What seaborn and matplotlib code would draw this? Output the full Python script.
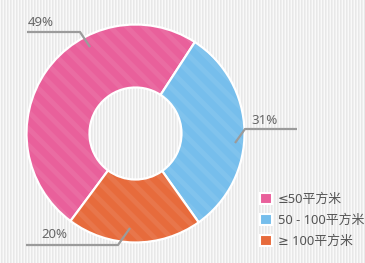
import numpy as np
import matplotlib
matplotlib.use('Agg')
import matplotlib.pyplot as plt
import seaborn as sns
from matplotlib.patches import Patch

categories = ['≤50平方米', '50 - 100平方米', '≥ 100平方米']
values = [49, 31, 20]
pct_labels = ['49%', '31%', '20%']
colors = ['#E9609B', '#76BEEC', '#E76B3C']

sns.set_theme(style='white')
plt.rcParams['font.family'] = ['Noto Sans', 'DejaVu Sans', 'Noto Sans CJK SC']
plt.rcParams['hatch.linewidth'] = 3.5

W, H = 365, 263
fig = plt.figure(figsize=(W / 100, H / 100), dpi=100)

# striped background
bg = fig.add_axes([0, 0, 1, 1])
pattern = np.array([0.975, 0.91, 0.935])
row = np.tile(pattern, W // 3 + 1)[:W]
bg.imshow(row[None, :], cmap='gray', vmin=0, vmax=1, aspect='auto',
          interpolation='nearest', extent=(0, W, 0, H))
bg.axis('off')

ax = fig.add_axes([0, 0, 1, 1])
ax.patch.set_alpha(0)
cx, cy, R, r_in = 135.5, H - 133.5, 109, 46
pal = sns.color_palette(colors)
start = 57 + 360 * values[0] / sum(values)
ax.pie(values, radius=R, center=(cx, cy), startangle=start, counterclock=False,
       colors=pal, wedgeprops=dict(width=R - r_in, edgecolor='white', linewidth=1.6))
ax.pie(values, radius=R - 1, center=(cx, cy), startangle=start, counterclock=False,
       colors=['none'] * 3,
       wedgeprops=dict(width=R - r_in - 2, edgecolor=(1, 1, 1, 0.08), linewidth=0,
                       hatch='\\\\'))
ax.set_xlim(0, W)
ax.set_ylim(0, H)
ax.axis('off')

lc = '#9b9b9b'
tc = '#666666'
fs = 9.5
# leader lines + labels
ax.plot([27, 80, 90], [H - 32, H - 32, H - 47], color=lc, lw=1.6, solid_capstyle='butt')
ax.text(41, H - 22, pct_labels[0], ha='center', va='center', fontsize=fs, color=tc)
ax.plot([297, 245, 235], [H - 129, H - 129, H - 143], color=lc, lw=1.6, solid_capstyle='butt')
ax.text(265, H - 120, pct_labels[1], ha='center', va='center', fontsize=fs, color=tc)
ax.plot([26, 118, 130], [H - 245, H - 245, H - 228], color=lc, lw=1.6, solid_capstyle='butt')
ax.text(54, H - 235, pct_labels[2], ha='center', va='center', fontsize=fs, color=tc)

handles = [Patch(facecolor=c, edgecolor='white', linewidth=1.5) for c in pal]
ax.legend(handles, categories, loc='upper left', bbox_to_anchor=(260 / W, 1 - 193 / H),
          bbox_transform=fig.transFigure, frameon=False, fontsize=9.3,
          handlelength=0.95, handleheight=0.95, handletextpad=0.45, labelspacing=0.6,
          labelcolor='#555555', borderpad=0, borderaxespad=0)

fig.savefig('out.png', dpi=100)
